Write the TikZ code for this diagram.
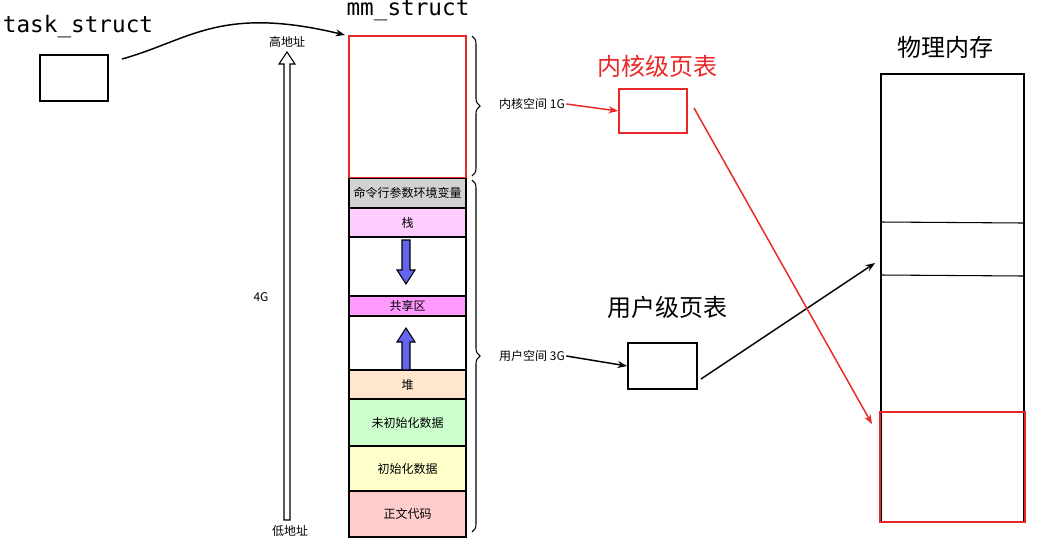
\documentclass[tikz,border=0pt]{standalone}
\usepackage{fontspec}
\setmainfont{Noto Sans CJK SC}
\newfontfamily\cjk{Noto Sans CJK SC}
\newfontfamily\mono{DejaVu Sans Mono}
\usetikzlibrary{decorations.pathreplacing,arrows.meta}
\definecolor{kred}{RGB}{232,40,40}
\definecolor{argc}{RGB}{210,210,210}
\definecolor{stk}{RGB}{255,204,255}
\definecolor{shr}{RGB}{255,153,255}
\definecolor{heap}{RGB}{255,230,204}
\definecolor{bss}{RGB}{204,255,204}
\definecolor{dat}{RGB}{255,255,204}
\definecolor{txt}{RGB}{255,204,204}
\definecolor{blu}{RGB}{100,100,240}
\begin{document}
\begin{tikzpicture}[x=0.75pt,y=-0.75pt,
  seg/.style={draw, thick, minimum width=87.75pt, inner sep=0, font=\cjk\fontsize{9}{9}\selectfont},
  box/.style={draw, line width=1.5pt, inner sep=0},
  lab/.style={font=\cjk\fontsize{9}{9}\selectfont, inner sep=1pt},
  big/.style={font=\cjk\fontsize{18}{18}\selectfont},
  arr/.style={-{Stealth[length=7pt]}, line width=1.1pt}]
  \useasboundingbox (0,0) rectangle (1040,551);
  % task_struct
  \node[font=\mono\fontsize{17}{17}\selectfont] (tsk) at (78,27) {task\_struct};
  \node[box, minimum width=51pt, minimum height=34.5pt] (tbox) at (74,78) {};
  \node[font=\mono\fontsize{17}{17}\selectfont] (mm) at (408,10) {mm\_struct};
  \coordinate (tout) at (122,59);
  \coordinate (mmin) at (345,35);
  \draw[arr] (tout) .. controls (190,40) and (220,5) .. (mmin);
  % address arrow
  \node[lab] (hi) at (287,42) {高地址};
  \node[lab] (lo) at (290,531) {低地址};
  \node[lab] (g4) at (261,297) {4G};
  \draw[thick, fill=white] (284,520) -- (284,64) -- (279,64) -- (287,52) -- (295,64) -- (290,64) -- (290,520) -- cycle;
  % memory layout
  \node[seg, draw=kred, line width=1.5pt, minimum height=106.5pt] (kern) at (407.5,107) {};
  \node[seg, fill=argc, minimum height=21.75pt] (env) at (407.5,193) {命令行参数环境变量};
  \node[seg, fill=stk, minimum height=21.75pt] (stack) at (407.5,222.5) {栈};
  \node[seg, minimum height=44.25pt] (gap1) at (407.5,266.5) {};
  \node[seg, fill=shr, minimum height=15pt] (share) at (407.5,306) {共享区};
  \node[seg, minimum height=40.5pt] (gap2) at (407.5,343) {};
  \node[seg, fill=heap, minimum height=21.75pt] (heap) at (407.5,384.5) {堆};
  \node[seg, fill=bss, minimum height=35.25pt] (bss) at (407.5,422.5) {未初始化数据};
  \node[seg, fill=dat, minimum height=33.75pt] (data) at (407.5,468.5) {初始化数据};
  \node[seg, fill=txt, minimum height=34.5pt] (text) at (407.5,514) {正文代码};
  \draw[thick, fill=blu] (402,240) -- (402,270) -- (397,270) -- (406,284) -- (415,270) -- (410,270) -- (410,240) -- cycle;
  \draw[thick, fill=blu] (402,370) -- (402,342) -- (397,342) -- (406,328) -- (415,342) -- (410,342) -- (410,370) -- cycle;
  % braces
  \draw[decorate, decoration={brace, amplitude=6pt}, thick] (472,36) -- (472,176);
  \draw[decorate, decoration={brace, amplitude=6pt}, thick] (472,180) -- (472,532);
  \node[lab] (ksp) at (532,104) {内核空间 1G};
  \node[lab] (usp) at (532,356) {用户空间 3G};
  % page tables
  \node[big, text=kred] (kpt) at (657,66) {内核级页表};
  \node[box, draw=kred, minimum width=51pt, minimum height=33pt] (kbox) at (653,111) {};
  \node[big] (upt) at (667,307) {用户级页表};
  \node[box, minimum width=51.75pt, minimum height=34.5pt] (ubox) at (662.5,366) {};
  \draw[arr, kred] (ksp.east) -- (kbox.west);
  \draw[arr] (usp.east) -- (ubox.west);
  % physical memory
  \node[big] (phy) at (945,47) {物理内存};
  \node[box, minimum width=107.25pt, minimum height=336pt] (pm) at (952.5,298) {};
  \coordinate (pa) at (881,222); \coordinate (pb) at (1024,223);
  \coordinate (pc) at (881,275); \coordinate (pd) at (1024,276);
  \draw[thick] (pa) -- (pb);
  \draw[thick] (pc) -- (pd);
  \node[box, draw=kred, minimum width=108.75pt, minimum height=82.5pt] (pk) at (952.5,467) {};
  \coordinate (uend) at (875,263);
  \coordinate (kend) at (872,424);
  \draw[arr] (701,379) -- (uend);
  \draw[arr, kred] (694,108) -- (kend);
\end{tikzpicture}
\end{document}
